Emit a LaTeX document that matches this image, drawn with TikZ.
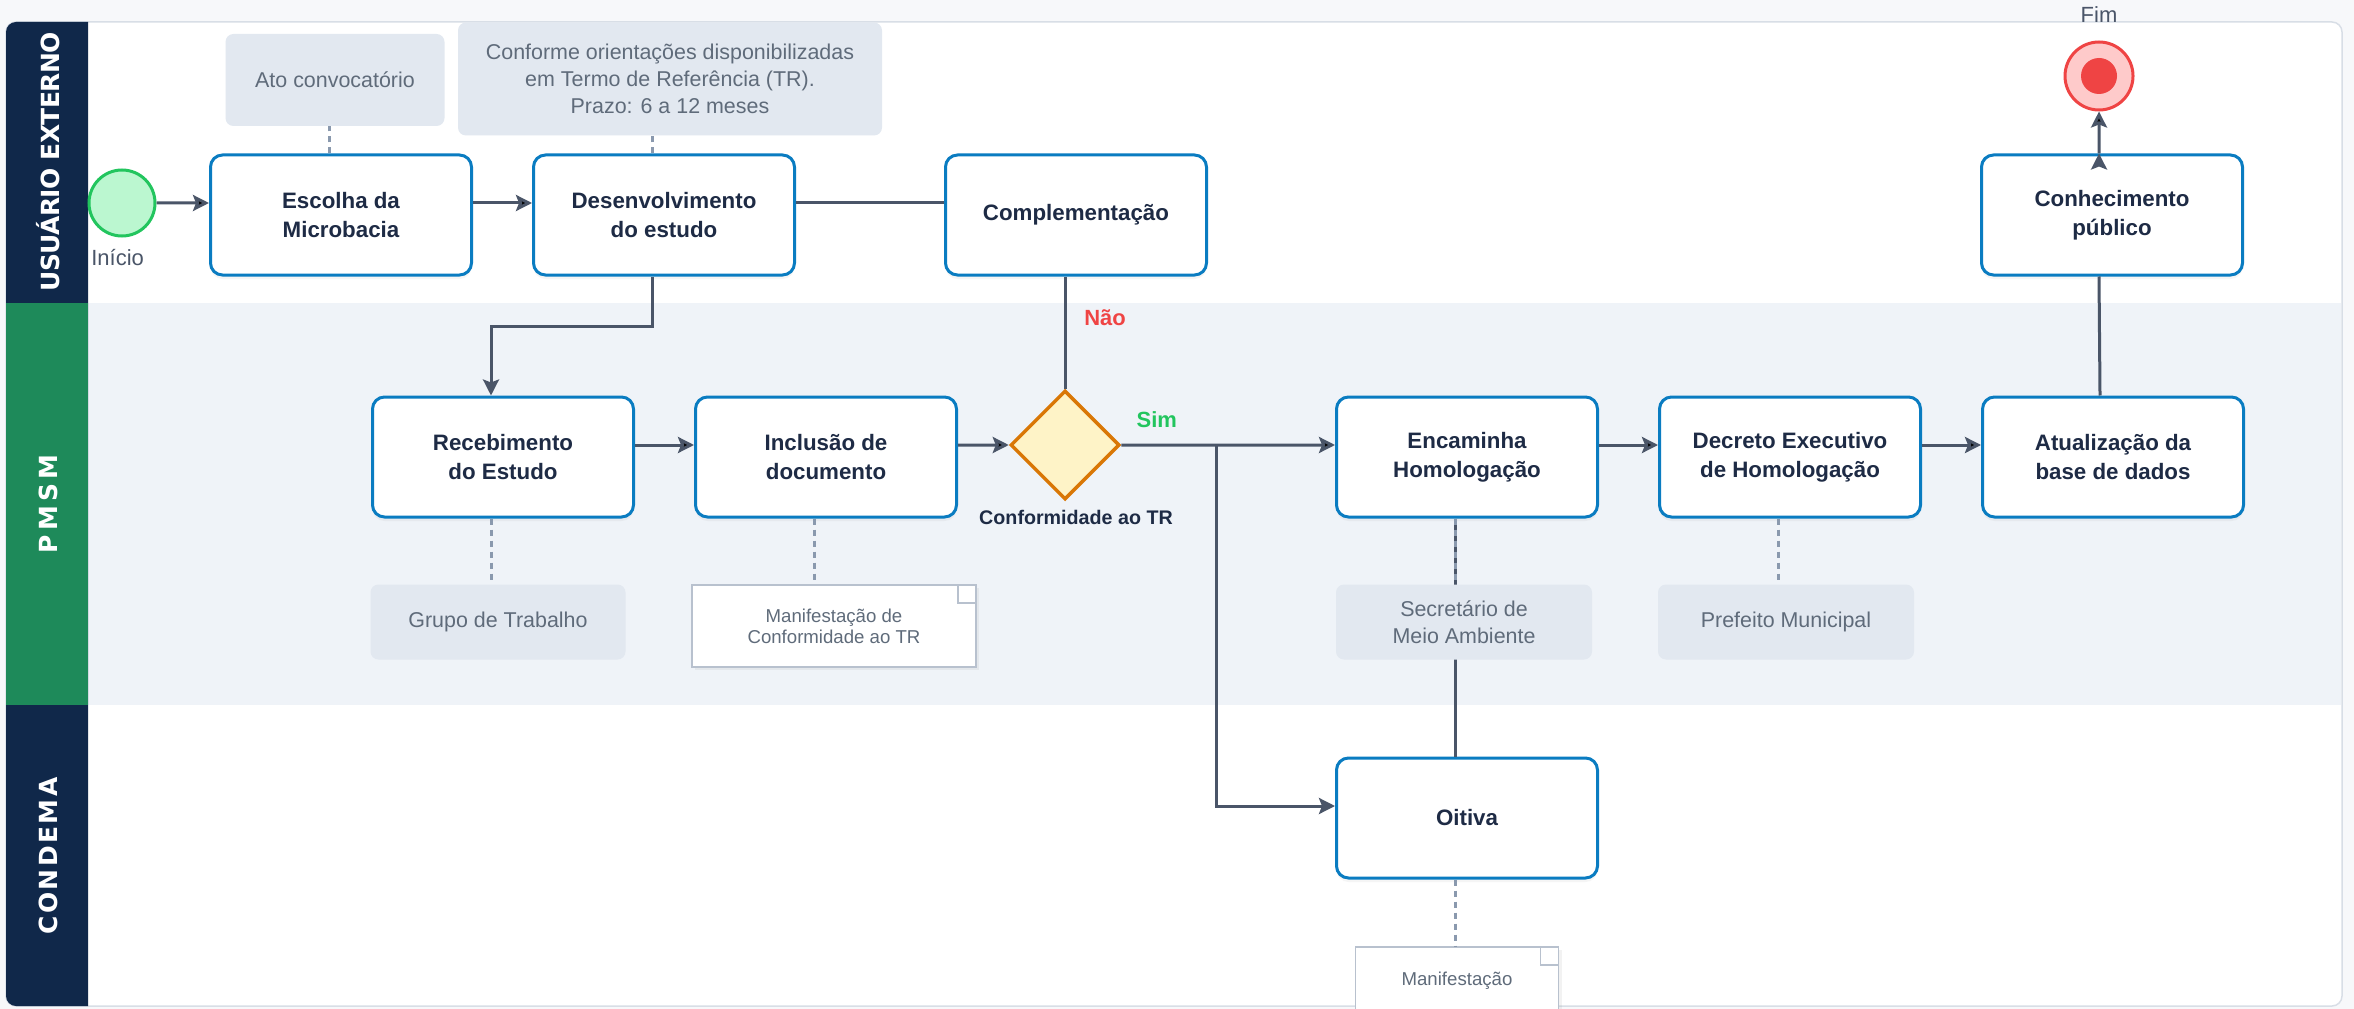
\documentclass[tikz,border=0pt]{standalone}
\usepackage{fontspec}
\setmainfont{Liberation Sans}
\newfontfamily\lanefont{DejaVu Sans}
\usetikzlibrary{positioning,shapes.geometric,arrows.meta,shadows}

\definecolor{pagebg}{HTML}{F7F8FA}
\definecolor{framegray}{HTML}{D8DEE6}
\definecolor{lanebg}{HTML}{EFF3F8}
\definecolor{lanenavy}{HTML}{10284A}
\definecolor{lanegreen}{HTML}{1E8A5A}
\definecolor{procblue}{HTML}{0A7CC1}
\definecolor{inkdark}{HTML}{1E2B45}
\definecolor{flowgray}{HTML}{4A5568}
\definecolor{assocgray}{HTML}{8A99AE}
\definecolor{notefill}{HTML}{E2E8F0}
\definecolor{notetext}{HTML}{5F6B7A}
\definecolor{docgray}{HTML}{B8C1CE}
\definecolor{gatefill}{HTML}{FEF3C7}
\definecolor{gateorange}{HTML}{D97706}
\definecolor{startfill}{HTML}{BBF7D0}
\definecolor{startgreen}{HTML}{22C55E}
\definecolor{endfill}{HTML}{FECACA}
\definecolor{endred}{HTML}{EF4444}

\newcommand{\lanetext}[2]{\addfontfeatures{LetterSpace=#1}#2}

\tikzset{
  proc/.style={draw=procblue, line width=0.6mm, fill=white, rounded corners=2.4mm,
    minimum width=52.2mm, minimum height=24mm, align=center, text=inkdark,
    font=\fontsize{12.7}{16.5}\selectfont\bfseries,
    drop shadow={opacity=0.08, shadow xshift=0mm, shadow yshift=-0.8mm}},
  gate/.style={diamond, aspect=1, draw=gateorange, fill=gatefill, line width=0.7mm,
    minimum width=21.8mm, minimum height=21.8mm, inner sep=0pt},
  gatelabel/.style={inner sep=0pt, text=inkdark, font=\fontsize{11.2}{13}\selectfont\bfseries},
  startev/.style={circle, draw=startgreen, fill=startfill, line width=0.6mm,
    minimum size=13.2mm, inner sep=0pt},
  endev/.style={circle, draw=endred, fill=endfill, line width=0.6mm,
    minimum size=13.6mm, inner sep=0pt},
  evlabel/.style={inner sep=0pt, text=flowgray, font=\fontsize{12.5}{14}\selectfont},
  note/.style={fill=notefill, rounded corners=1.6mm, inner sep=0pt, align=center,
    text=notetext, font=\fontsize{12.2}{15.4}\selectfont},
  doc/.style={draw=docgray, fill=white, line width=0.3mm, inner sep=0pt, align=center,
    text=notetext, font=\fontsize{10.6}{12}\selectfont,
    drop shadow={opacity=0.10, shadow xshift=0.6mm, shadow yshift=-0.6mm},
    path picture={\draw[docgray, line width=0.3mm]
      ([xshift=-3.6mm]path picture bounding box.north east) |-
      ([yshift=-3.6mm]path picture bounding box.north east);}},
  lane/.style={rotate=90, text=white, inner sep=0pt,
    font=\lanefont\fontsize{14.2}{14.2}\selectfont\bfseries},
  flow/.style={draw=flowgray, line width=0.6mm},
  assoc/.style={draw=assocgray, line width=0.6mm, dash pattern=on 1.2mm off 1mm},
  sim/.style={inner sep=0pt, text=startgreen, font=\fontsize{12.5}{14}\selectfont\bfseries},
  nao/.style={inner sep=0pt, text=endred, font=\fontsize{12.5}{14}\selectfont\bfseries}
}

\begin{document}
\begin{tikzpicture}[x=0.2mm, y=-0.2mm]
  % fundo, moldura e raias
  \useasboundingbox[fill=pagebg] (0,0) rectangle (2354,1009);
  \draw[framegray, fill=white, rounded corners=2mm, line width=0.3mm] (6,22) rectangle (2342,1006);
  \fill[lanebg] (88,303) rectangle (2341,705);
  \begin{scope}
    \clip (6,22) rectangle (88,1006);
    \fill[lanenavy, rounded corners=2mm] (6,22) rectangle (130,1006);
  \end{scope}
  \fill[lanegreen] (6,303) rectangle (88,705);
  \node[lane] (l-ext) at (48,162) {\lanetext{-2.5}{USUÁRIO EXTERNO}};
  \node[lane] (l-pmsm) at (48,504) {\lanetext{18.0}{PMSM}};
  \node[lane] (l-cond) at (48,856) {\lanetext{10.0}{CONDEMA}};

  % eventos
  \node[startev] (ini) at (122,203) {};
  \node[evlabel, anchor=base west] (ini-l) at (91,265) {Início};
  \node[endev] (fim) at (2099,76) {};
  \fill[endred] (fim) circle[radius=3.6mm];
  \node[evlabel, anchor=base] (fim-l) at (2099,23) {Fim};

  % atividades
  \node[proc] (esc) at (341,215) {Escolha da\\Microbacia};
  \node[proc, right=11.8mm of esc] (des) {Desenvolvimento\\do estudo};
  \node[proc] (com) at (1076,215) {Complementação};
  \node[proc] (con) at (2112,215) {Conhecimento\\público};
  \node[proc] (rec) at (503,457) {Recebimento\\do Estudo};
  \node[proc, right=11.8mm of rec] (inc) {Inclusão de\\documento};
  \node[gate] (dia) at (1065,445) {};
  \node[gatelabel, below=1.8mm of dia, xshift=2.2mm] (dia-l) {Conformidade ao TR};
  \node[proc] (enc) at (1467,457) {Encaminha\\Homologação};
  \node[proc, right=11.8mm of enc] (dec) {Decreto Executivo\\de Homologação};
  \node[proc, right=11.8mm of dec] (atu) {Atualização da\\base de dados};
  \node[proc] (oit) at (1467,818) {Oitiva};

  % fluxo
  \coordinate[right=19mm of dia.east] (split);
  \path[flow, -{Stealth[length=3.2mm, width=3.2mm, inset=0.6mm]}]
    (ini.east) edge ([yshift=2.4mm]esc.west)
    ([yshift=2.4mm]esc.east) edge ([yshift=2.4mm]des.west)
    ([yshift=2.4mm]rec.east) edge ([yshift=2.4mm]inc.west)
    ([yshift=2.4mm]inc.east) edge (dia.west)
    (dia.east) edge ([yshift=2.4mm]enc.west)
    ([yshift=2.4mm]enc.east) edge ([yshift=2.4mm]dec.west)
    ([yshift=2.4mm]dec.east) edge ([yshift=2.4mm]atu.west)
    ([xshift=-2.6mm]con.north) edge (fim.south);
  \draw[flow, -{Stealth[length=3.2mm, width=3.2mm, inset=0.6mm]}]
    ([xshift=-2.4mm]des.south) -- ++(0,50) -| ([xshift=-2.4mm]rec.north);
  \draw[flow, -{Stealth[length=3.2mm, width=3.2mm, inset=0.6mm]}]
    (split) |- ([yshift=2.4mm]oit.west);
  \draw[flow] ([yshift=2.4mm]des.east) -- ([yshift=2.4mm]com.west);
  \draw[flow] (dia.north) -- (dia.north |- com.south);
  \draw[flow] ([xshift=-2.6mm]atu.north) -- ([xshift=-2.6mm]con.south);
  \draw[flow] ([xshift=-2.4mm]enc.south) -- ([xshift=-2.4mm]oit.north);
  \node[nao, anchor=west] (nao-l) at (1084,318) {Não};
  \node[sim, above right=3.4mm and 3mm of dia.east] (sim-l) {Sim};

  % anotacoes
  \node[note, minimum width=43.8mm, minimum height=18.4mm] (ato) at (335,80) {Ato convocatório};
  \node[note, minimum width=84.8mm, minimum height=22.6mm] (tr) at (670,79)
    {Conforme orientações disponibilizadas\\em Termo de Referência (TR).\\Prazo: 6 a 12 meses};
  \node[note, minimum width=51mm, minimum height=15mm] (gt) at (498,622) {Grupo de Trabalho};
  \node[doc, minimum width=56.8mm, minimum height=16.4mm] (mcr) at (834,626)
    {Manifestação de\\Conformidade ao TR};
  \node[note, minimum width=51.2mm, minimum height=15mm] (sec) at (1464,622)
    {Secretário de\\Meio Ambiente};
  \node[note, minimum width=51.2mm, minimum height=15mm] (pref) at (1786,622) {Prefeito Municipal};
  \node[doc, minimum width=40.6mm, minimum height=13.6mm] (man) at (1457,981) {Manifestação};

  \draw[assoc] ([xshift=-2.4mm]esc.north) -- ([xshift=-2.4mm]esc.north |- ato.south);
  \draw[assoc] ([xshift=-2.4mm]des.north) -- ([xshift=-2.4mm]des.north |- tr.south);
  \draw[assoc] ([xshift=-2.4mm]rec.south) -- ([xshift=-2.4mm]rec.south |- gt.north);
  \draw[assoc] ([xshift=-2.4mm]inc.south) -- ([xshift=-2.4mm]inc.south |- mcr.north);
  \draw[assoc] ([xshift=-2.4mm]enc.south) -- ([xshift=-2.4mm]enc.south |- sec.north);
  \draw[assoc] ([xshift=-2.4mm]dec.south) -- ([xshift=-2.4mm]dec.south |- pref.north);
  \draw[assoc] ([xshift=-2.4mm]oit.south) -- ([xshift=-2.4mm]oit.south |- man.north);
\end{tikzpicture}
\end{document}
